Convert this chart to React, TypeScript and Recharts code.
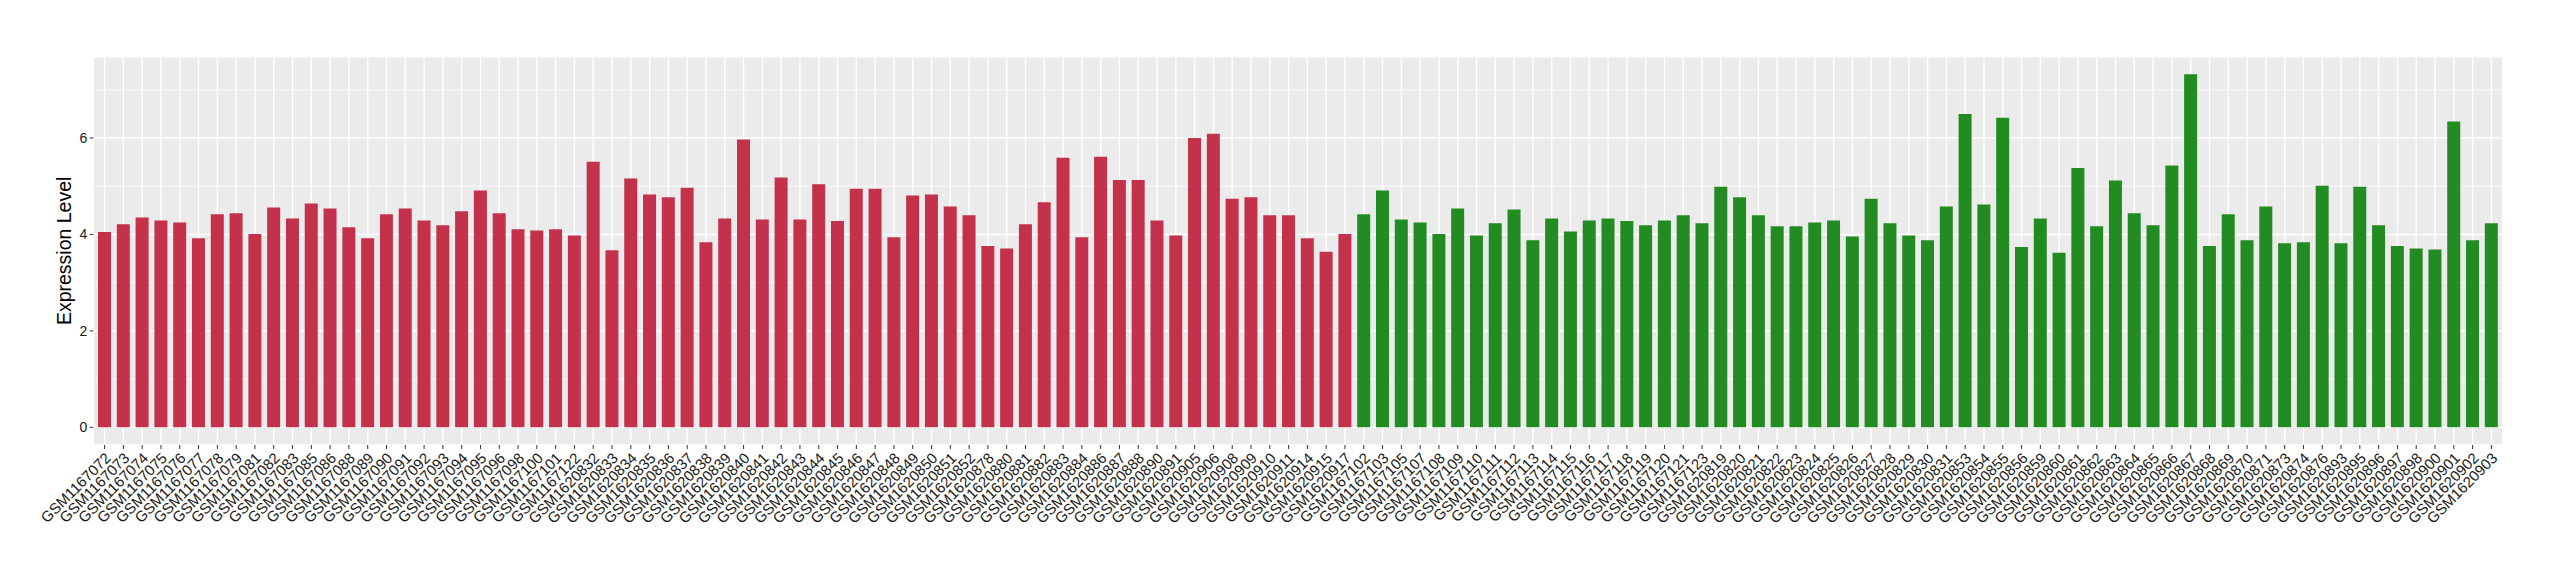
import { BarChart, Bar, XAxis, YAxis, CartesianGrid, Cell } from "recharts"

// sample ids and expression values, in plot order
const tumorSamples = [
  "GSM1167072", "GSM1167073", "GSM1167074", "GSM1167075", "GSM1167076", "GSM1167077",
  "GSM1167078", "GSM1167079", "GSM1167081", "GSM1167082", "GSM1167083", "GSM1167085",
  "GSM1167086", "GSM1167088", "GSM1167089", "GSM1167090", "GSM1167091", "GSM1167092",
  "GSM1167093", "GSM1167094", "GSM1167095", "GSM1167096", "GSM1167098", "GSM1167100",
  "GSM1167101", "GSM1167122", "GSM1620832", "GSM1620833", "GSM1620834", "GSM1620835",
  "GSM1620836", "GSM1620837", "GSM1620838", "GSM1620839", "GSM1620840", "GSM1620841",
  "GSM1620842", "GSM1620843", "GSM1620844", "GSM1620845", "GSM1620846", "GSM1620847",
  "GSM1620848", "GSM1620849", "GSM1620850", "GSM1620851", "GSM1620852", "GSM1620878",
  "GSM1620880", "GSM1620881", "GSM1620882", "GSM1620883", "GSM1620884", "GSM1620886",
  "GSM1620887", "GSM1620888", "GSM1620890", "GSM1620891", "GSM1620905", "GSM1620906",
  "GSM1620908", "GSM1620909", "GSM1620910", "GSM1620911", "GSM1620914", "GSM1620915",
  "GSM1620917",
]

const tumorValues = [
  4.05, 4.21, 4.35, 4.29, 4.25, 3.92, 4.42, 4.44, 4.01, 4.56, 4.33, 4.64,
  4.54, 4.15, 3.92, 4.42, 4.54, 4.29, 4.19, 4.48, 4.91, 4.44, 4.11, 4.08,
  4.11, 3.98, 5.51, 3.67, 5.16, 4.83, 4.77, 4.97, 3.84, 4.33, 5.97, 4.31,
  5.18, 4.31, 5.04, 4.28, 4.95, 4.95, 3.94, 4.81, 4.83, 4.58, 4.40, 3.76,
  3.71, 4.21, 4.67, 5.59, 3.94, 5.61, 5.13, 5.13, 4.29, 3.98, 6.0, 6.09,
  4.74, 4.77, 4.40, 4.40, 3.92, 3.64, 4.01,
]

const normalSamples = [
  "GSM1167102", "GSM1167103", "GSM1167105", "GSM1167107", "GSM1167108", "GSM1167109",
  "GSM1167110", "GSM1167111", "GSM1167112", "GSM1167113", "GSM1167114", "GSM1167115",
  "GSM1167116", "GSM1167117", "GSM1167118", "GSM1167119", "GSM1167120", "GSM1167121",
  "GSM1167123", "GSM1620819", "GSM1620820", "GSM1620821", "GSM1620822", "GSM1620823",
  "GSM1620824", "GSM1620825", "GSM1620826", "GSM1620827", "GSM1620828", "GSM1620829",
  "GSM1620830", "GSM1620831", "GSM1620853", "GSM1620854", "GSM1620855", "GSM1620856",
  "GSM1620859", "GSM1620860", "GSM1620861", "GSM1620862", "GSM1620863", "GSM1620864",
  "GSM1620865", "GSM1620866", "GSM1620867", "GSM1620868", "GSM1620869", "GSM1620870",
  "GSM1620871", "GSM1620873", "GSM1620874", "GSM1620876", "GSM1620893", "GSM1620895",
  "GSM1620896", "GSM1620897", "GSM1620898", "GSM1620900", "GSM1620901", "GSM1620902",
  "GSM1620903",
]

const normalValues = [
  4.42, 4.91, 4.31, 4.25, 4.01, 4.54, 3.98, 4.23, 4.52, 3.88, 4.33, 4.06,
  4.29, 4.33, 4.28, 4.19, 4.29, 4.40, 4.23, 4.99, 4.77, 4.40, 4.17, 4.17,
  4.25, 4.29, 3.96, 4.74, 4.23, 3.98, 3.88, 4.58, 6.50, 4.62, 6.42, 3.74,
  4.33, 3.62, 5.38, 4.17, 5.12, 4.44, 4.19, 5.43, 7.32, 3.76, 4.42, 3.88,
  4.58, 3.82, 3.84, 5.01, 3.82, 4.99, 4.19, 3.76, 3.71, 3.69, 6.34, 3.88,
  4.23,
]

const yTicks = [0, 2, 4, 6]
const yMinorTicks = [1, 3, 5, 7]

const TUMOR_COLOR = "#C3324A"
const NORMAL_COLOR = "#228B22"
const FONT = "'Liberation Sans', Arial, Helvetica, sans-serif"

const data = [
  ...tumorSamples.map((sample, i) => ({ sample, value: tumorValues[i], color: TUMOR_COLOR })),
  ...normalSamples.map((sample, i) => ({ sample, value: normalValues[i], color: NORMAL_COLOR })),
]

// ggplot style expansion: 5% of the range on both sides
const yMax = Math.max(...tumorValues, ...normalValues)
const yDomain = [-0.05 * yMax, 1.05 * yMax]

function SampleTick({ x, y, payload }: any) {
  return (
    <g transform={`translate(${x + 7},${y + 10})`}>
      <text
        textAnchor="end"
        transform="rotate(-45)"
        fontSize={15}
        fontFamily={FONT}
        fill="#1A1A1A"
      >
        {payload.value}
      </text>
    </g>
  )
}

function YTitle({ viewBox }: any) {
  const cx = viewBox.x + 63.5
  const cy = viewBox.y + viewBox.height / 2
  return (
    <text
      x={cx}
      y={cy}
      transform={`rotate(-90, ${cx}, ${cy})`}
      textAnchor="middle"
      fontSize={19.5}
      fontFamily={FONT}
      fill="#000"
    >
      Expression Level
    </text>
  )
}

export default function App() {
  return (
    <div style={{ width: 2544, height: 564 }}>
      <BarChart
        width={2544}
        height={564}
        data={data}
        margin={{ top: 48.7, right: 49.3, left: 0, bottom: 0 }}
        barCategoryGap="15%"
      >
        <CartesianGrid fill="#EBEBEB" stroke="#FFFFFF" strokeWidth={1.4} />
        <CartesianGrid
          horizontalValues={yMinorTicks}
          vertical={false}
          stroke="#FFFFFF"
          strokeWidth={0.7}
        />
        <XAxis
          dataKey="sample"
          interval={0}
          height={127}
          padding={{ left: 1.9, right: 1.9 }}
          axisLine={false}
          tickSize={4}
          tickMargin={0}
          tickLine={{ stroke: "#333333" }}
          tick={<SampleTick />}
        />
        <YAxis
          type="number"
          domain={yDomain}
          ticks={yTicks}
          allowDataOverflow
          width={85.3}
          axisLine={false}
          tickSize={3.5}
          tickMargin={2.5}
          tickLine={{ stroke: "#333333" }}
          tick={{ fontSize: 14, fill: "#1A1A1A", fontFamily: FONT }}
          label={<YTitle />}
        />
        <Bar dataKey="value" isAnimationActive={false}>
          {data.map((d, i) => (
            <Cell key={`cell-${i}`} fill={d.color} />
          ))}
        </Bar>
      </BarChart>
    </div>
  )
}
